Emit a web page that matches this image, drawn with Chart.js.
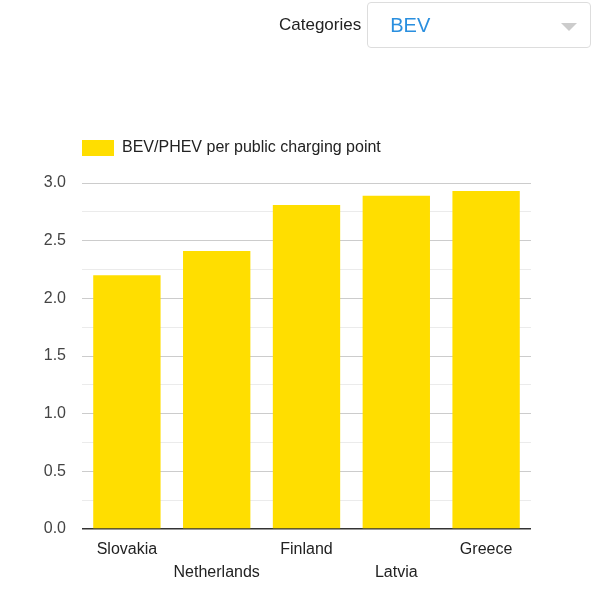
<!DOCTYPE html>
<html>
<head>
<meta charset="utf-8">
<script src="https://cdn.jsdelivr.net/npm/chart.js@4/dist/chart.umd.min.js"></script>
<style>
    html, body { margin: 0; padding: 0; background: #fff; }
    body { width: 602px; height: 600px; position: relative; overflow: hidden; font-family: Arial, "Liberation Sans", sans-serif; }
    .picker { position: absolute; top: 2px; left: 279px; display: flex; align-items: center; }
    .picker__label { font-size: 17px; color: #222; margin-right: 6px; }
    .picker__box {
        position: relative; border: 1px solid #ddd; border-radius: 4px;
        box-sizing: border-box; width: 224px; height: 46px;
    }
    .picker__value { position: absolute; left: 22px; top: 11px; font-size: 20px; color: #2a8fdf; }
    .picker__arrow {
        position: absolute; right: 13px; top: 20px; width: 0; height: 0;
        border-left: 8px solid transparent; border-right: 8px solid transparent; border-top: 8px solid #ccc;
    }
    .chart { position: absolute; left: 0; top: 0; width: 602px; height: 600px; }
</style>
</head>
<body>
<div class="chart"><canvas id="chart"></canvas></div>
<div class="picker">
    <span class="picker__label">Categories</span>
    <div class="picker__box"><span class="picker__value">BEV</span><span class="picker__arrow"></span></div>
</div>
<script>
const countries = ['Slovakia', 'Netherlands', 'Finland', 'Latvia', 'Greece'];
const ratios = [2.20, 2.41, 2.81, 2.89, 2.93];
const seriesLabel = 'BEV/PHEV per public charging point';

const FONT = { family: 'Arial, "Liberation Sans", sans-serif', size: 16 };

// legend block is taller than its one row: leave the gap down to the plot
const legendSpacer = {
    id: 'legendSpacer',
    afterInit(chart) {
        const legend = chart.legend;
        if (!legend) return;
        const fit = legend.fit;
        legend.fit = function () {
            fit.call(this);
            this.height = 43;
        };
    },
};

const ctx = document.getElementById('chart').getContext('2d');
new Chart(ctx, {
    type: 'bar',
    plugins: [legendSpacer],
    data: {
        labels: countries,
        datasets: [{
            label: seriesLabel,
            data: ratios,
            backgroundColor: '#ffde00',
            borderWidth: 0,
            categoryPercentage: 1,
            barPercentage: 0.75,
        }],
    },
    options: {
        responsive: true,
        maintainAspectRatio: false,
        animation: false,
        layout: { padding: { top: 140, right: 71, left: 0, bottom: 0 } },
        plugins: {
            legend: {
                position: 'top',
                align: 'start',
                fullSize: false,
                labels: {
                    boxWidth: 32,
                    boxHeight: 16,
                    color: '#222',
                    font: FONT,
                    padding: 0,
                },
            },
            tooltip: { enabled: false },
        },
        scales: {
            y: {
                min: 0,
                max: 3,
                ticks: {
                    stepSize: 0.25,
                    color: '#444',
                    font: FONT,
                    padding: 16,
                    callback: (v) => (v % 0.5 === 0 ? v.toFixed(1) : ''),
                },
                grid: {
                    drawTicks: false,
                    color: (c) => {
                        const v = c.tick ? c.tick.value : 0;
                        if (v === 0) return '#333';
                        return v % 0.5 === 0 ? '#cccccc' : '#ebebeb';
                    },
                    lineWidth: (c) => (c.tick && c.tick.value === 0 ? 1.5 : 1),
                },
                border: { display: false },
                afterFit: (axis) => { axis.width = 82; },
            },
            x: {
                grid: { display: false, drawTicks: false },
                border: { display: false },
                ticks: {
                    color: '#222',
                    font: { ...FONT, lineHeight: '23px' },
                    padding: 9,
                    maxRotation: 0,
                    autoSkip: false,
                    callback: (v, i) => (i % 2 === 1 ? ['', countries[i]] : countries[i]),
                },
                afterFit: (axis) => { axis.height = 71; },
            },
        },
    },
});
</script>
</body>
</html>
